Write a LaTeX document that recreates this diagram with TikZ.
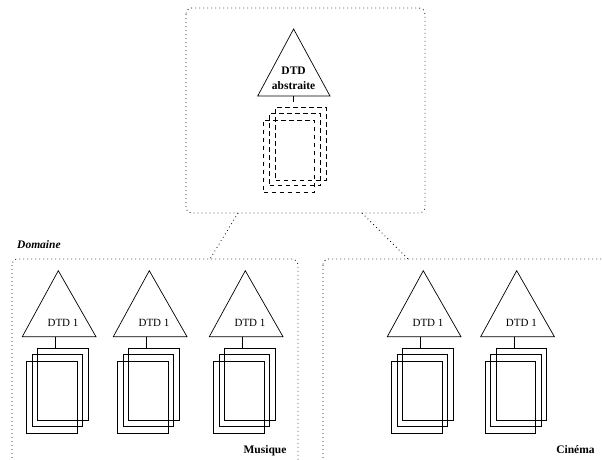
\documentclass[tikz,border=0pt]{standalone}
\usepackage{fontspec}
\setmainfont{Liberation Serif}
\usetikzlibrary{calc}
\tikzset{
  frame/.style={line width=0.8pt, dash pattern=on 0.8pt off 3.2pt, rounded corners=6pt},
  tri/.style={line width=0.7pt, line join=miter},
  doc/.style={draw, line width=0.7pt, inner sep=0pt, minimum width=50.6pt, minimum height=72.3pt},
  adoc/.style={doc, dash pattern=on 4.6pt off 3.4pt},
  lbl/.style={font=\fontsize{11}{13}\selectfont, inner sep=0pt},
  blbl/.style={font=\fontsize{11.5}{13}\selectfont\bfseries, inner sep=0pt},
}
\newcommand\dtdgroup[2]{%
  \coordinate (tl#2) at (#1,336.7);
  \coordinate (tr#2) at ({#1+73.7},336.7);
  \coordinate (ta#2) at ({#1+36},270.7);
  \draw[tri] (tl#2) -- (tr#2) -- (ta#2) -- cycle;
  \node[lbl] (tx#2) at ({#1+40.7},323) {DTD 1};
  \node[doc] (db#2) at ({#1+40.7},384) {};
  \node[doc] (dm#2) at ({#1+34.9},390.5) {};
  \node[doc] (df#2) at ({#1+29.7},397) {};
  \coordinate (ts#2) at ({#1+33.4},336.7);
  \draw[tri] (ts#2) -- (ts#2 |- db#2.north);
}
\begin{document}
\begin{tikzpicture}[x=1pt,y=-1pt]
  \clip (0,0) rectangle (602,459);
  % frames
  \draw[frame] (186,8) rectangle (425,213);
  \draw[frame] (12,259) rectangle (298,490);
  \draw[frame] (323,259) rectangle (640,490);
  % frame connectors
  \coordinate (c1) at (238,213);
  \coordinate (c2) at (210,259);
  \coordinate (c3) at (362,213);
  \coordinate (c4) at (408,259);
  \draw[frame] (c1) -- (c2);
  \draw[frame] (c3) -- (c4);
  % abstract DTD
  \coordinate (atl) at (257.7,96);
  \coordinate (atr) at (330,96);
  \coordinate (ata) at (293.6,29);
  \draw[tri] (atl) -- (atr) -- (ata) -- cycle;
  \node[blbl] (atx1) at (293.6,70.5) {DTD};
  \node[blbl] (atx2) at (293.6,86) {abstraite};
  \node[adoc, minimum width=51pt] (adb) at (301.2,143.85) {};
  \node[adoc, minimum width=51pt] (adm) at (295,149.65) {};
  \node[adoc, minimum width=51pt] (adf) at (289.15,156) {};
  \coordinate (ats) at (293.3,96);
  \draw[tri, dash pattern=on 5.5pt off 7pt] (ats) -- (ats |- adb.north);
  % groups
  \dtdgroup{22.3}{1}
  \dtdgroup{113.3}{2}
  \dtdgroup{209.3}{3}
  \dtdgroup{387.3}{4}
  \dtdgroup{480.7}{5}
  % labels
  \node[blbl, font=\fontsize{11.5}{13}\selectfont\bfseries\itshape, anchor=west] (dom) at (17,245) {Domaine};
  \node[blbl] (mus) at (265,451) {Musique};
  \node[blbl] (cin) at (575.5,450) {Cinéma};
\end{tikzpicture}
\end{document}
